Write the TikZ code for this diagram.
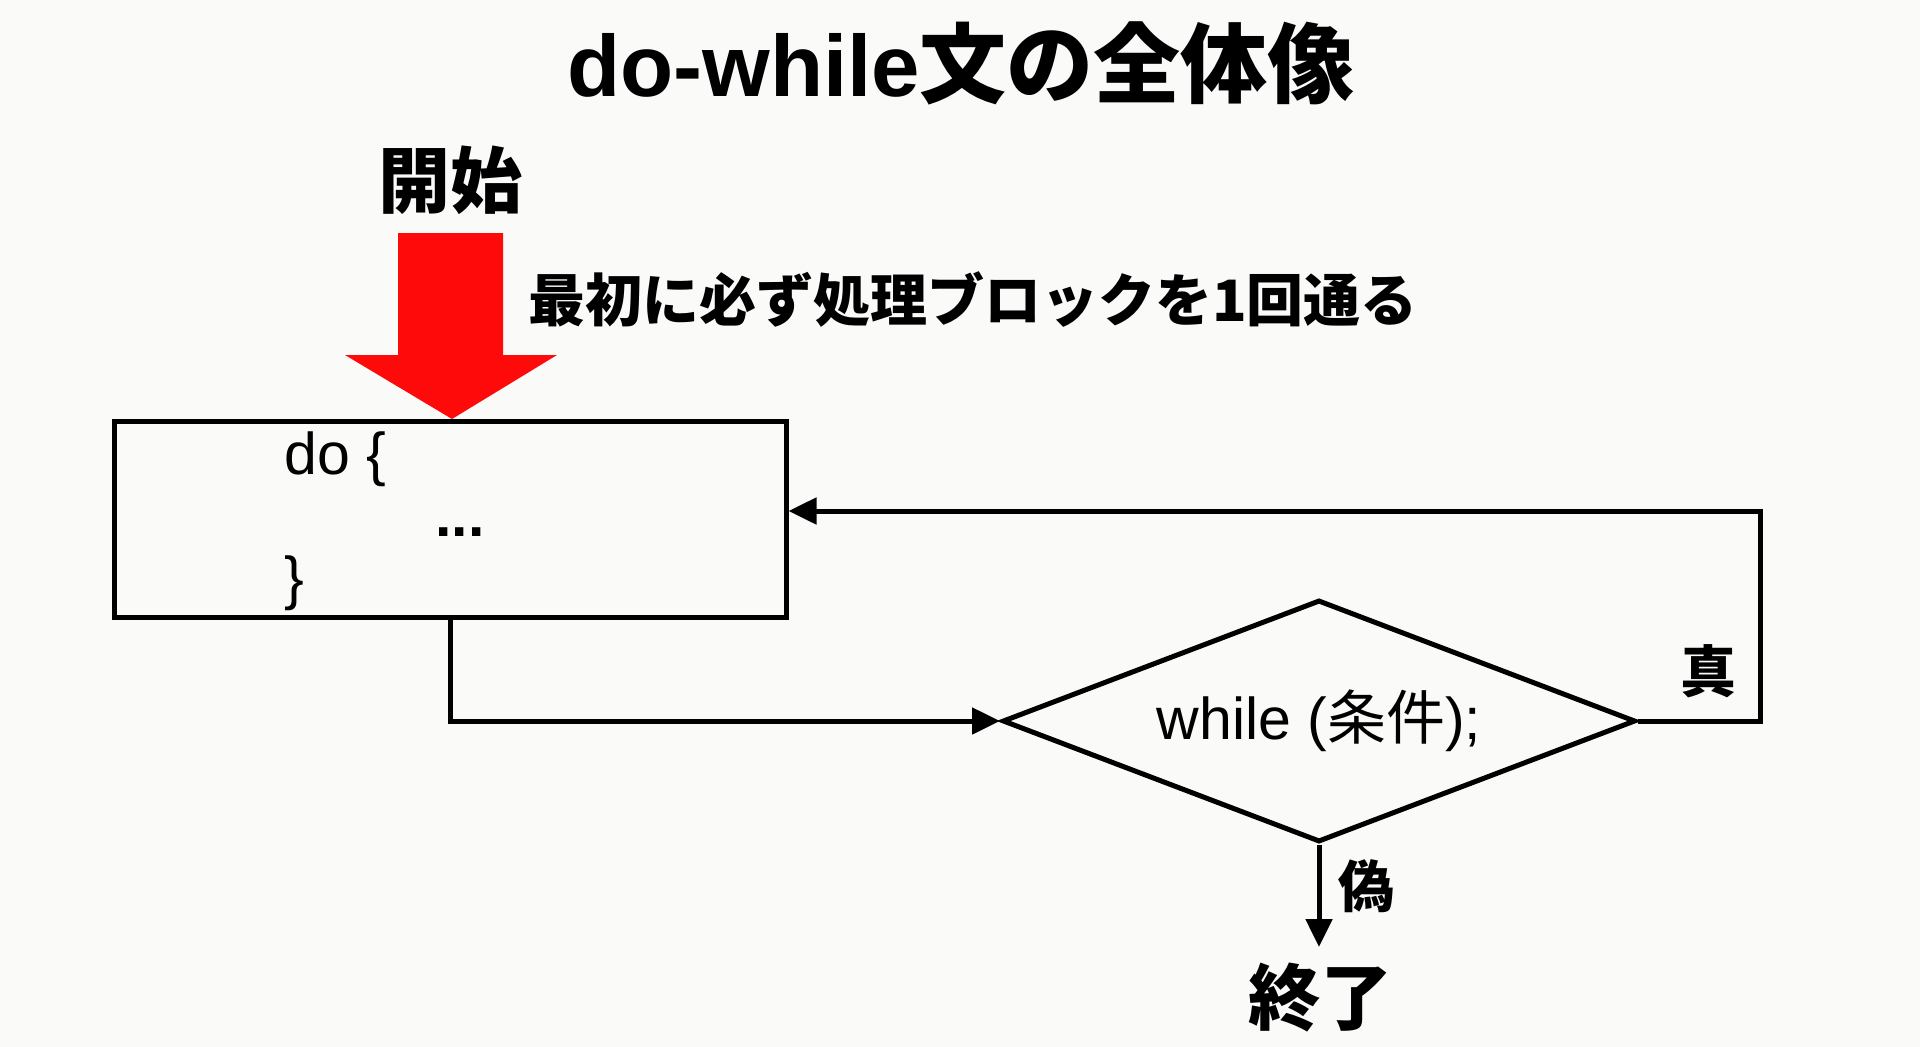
\documentclass[tikz,border=0pt]{standalone}
\usepackage{fontspec}
\setmainfont{Liberation Sans}
\newfontfamily\jp{Noto Sans CJK JP}
\usetikzlibrary{shapes.geometric,arrows.meta,positioning}
\definecolor{bgc}{RGB}{250,250,249}
\definecolor{redarrow}{RGB}{255,10,10}
\tikzset{
  flow/.style={line width=5pt},
  tip/.style={-{Triangle[length=28pt,width=26pt]}},
  lbl/.style={inner sep=0pt, font=\jp\bfseries\fontsize{56}{60}\selectfont},
  code/.style={inner sep=0pt, font=\fontsize{59}{64}\selectfont},
}
\begin{document}
\begin{tikzpicture}[x=1pt,y=-1pt]
\useasboundingbox[fill=bgc] (0,0) rectangle (1920,1047);
% title
\node[inner sep=0pt] (title) at (961,63) {\fontsize{87}{92}\selectfont\bfseries do-while{\jp 文の全体像}};
% start
\node[lbl, font=\jp\bfseries\fontsize{72}{76}\selectfont] (start) at (450,180) {開始};
% red arrow
\fill[redarrow] (398,233) -- (503,233) -- (503,355) -- (557,355) -- (452,419) -- (345,355) -- (398,355) -- cycle;
\node[lbl, anchor=west, font=\jp\bfseries\fontsize{57}{60}\selectfont] (note) at (528,300) {最初に必ず処理ブロックを1回通る};
% body box
\node[draw, flow, minimum width=672pt, minimum height=196pt, inner sep=0pt] (box) at (450,519) {};
\node[code, anchor=west] (dol) at (284,459) {do \{};
\node[code] (dots) at (460,532) {\textbf{...}};
\node[code, anchor=west] (cl) at (284,583) {\}};
% diamond
\node[draw, flow, diamond, aspect=2.616, minimum width=633pt, minimum height=242pt, inner sep=0pt] (dia) at (1319,721) {};
\node[code] (cond) at (1319,721) {while ({\jp 条件});};
% connectors
\draw[flow, tip] (box.south) |- (dia.west);
\coordinate (tr) at (1760,511);
\draw[flow, tip] (dia.east) -| (tr) -- (tr -| box.east);
\coordinate (endp) at (1319,947);
\draw[flow, tip] (dia.south) -- (endp);
\node[lbl] (true) at (1708,671) {真};
\node[lbl] (false) at (1366,886) {偽};
\node[lbl, font=\jp\bfseries\fontsize{72}{76}\selectfont] (end) at (1320,998) {終了};
\end{tikzpicture}
\end{document}
